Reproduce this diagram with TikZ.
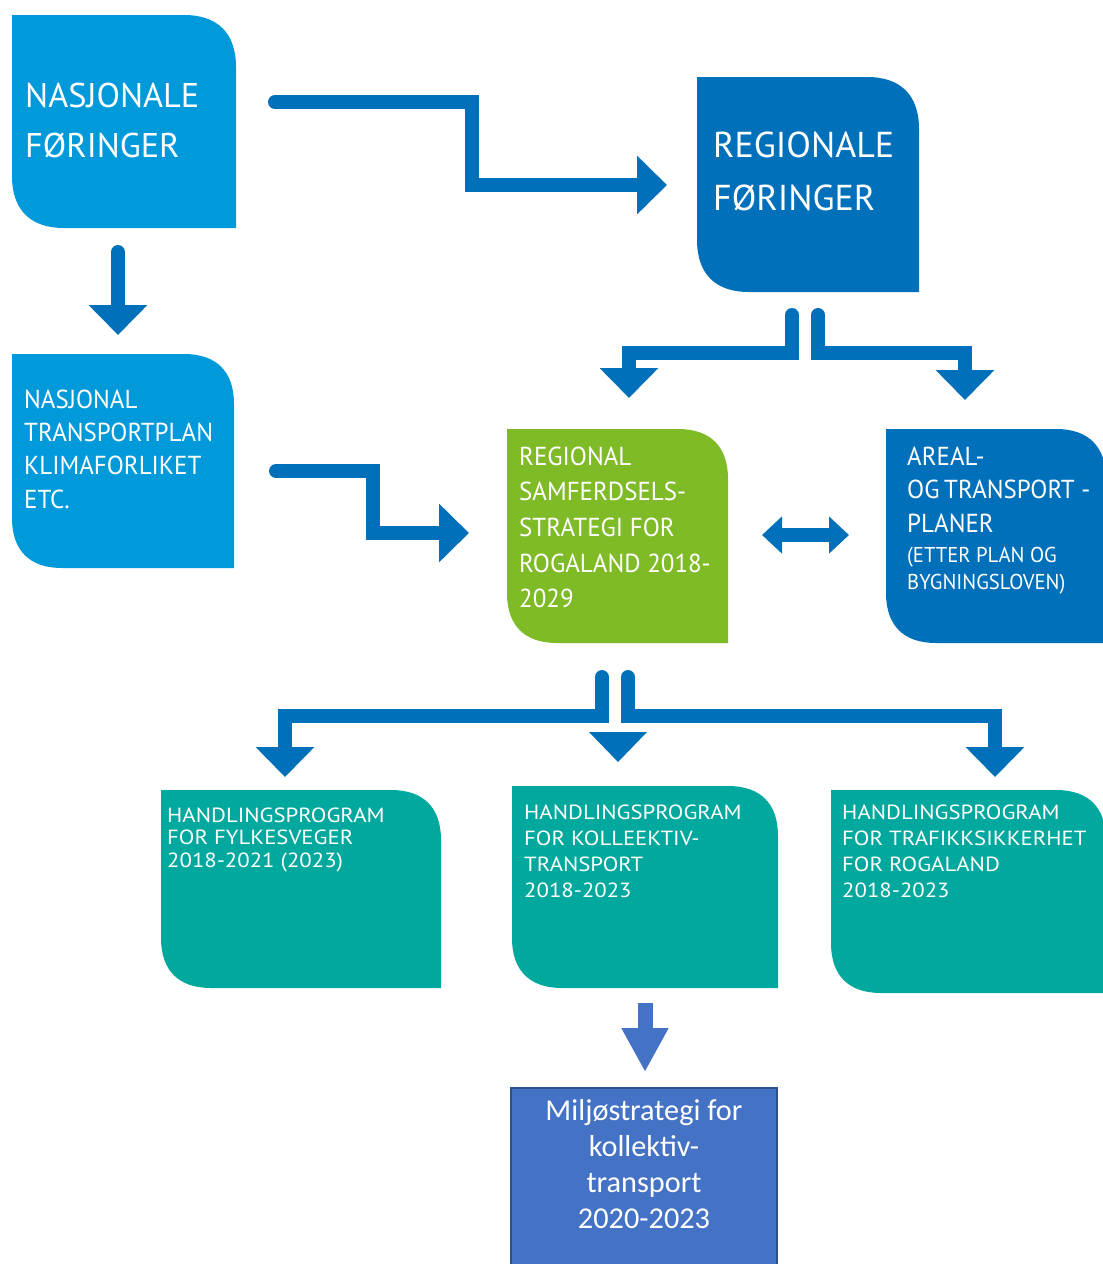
\documentclass[tikz,border=0pt]{standalone}
\usepackage{fontspec}
\newfontfamily\ptf{PT Sans}
\newfontfamily\ptn[FakeStretch=0.96]{PT Sans}
\newfontfamily\ptw[FakeStretch=1.11]{PT Sans}
\newfontfamily\carl{Carlito}
\usetikzlibrary{arrows.meta,fit}
\definecolor{lblue}{RGB}{0,153,218}
\definecolor{dblue}{RGB}{0,112,186}
\definecolor{ablue}{RGB}{0,112,186}
\definecolor{lgreen}{RGB}{127,186,39}
\definecolor{teal}{RGB}{0,168,157}
\definecolor{office}{RGB}{68,114,196}
\definecolor{officeb}{RGB}{47,82,143}
% #1 name, #2 x1, #3 y1, #4 x2, #5 y2, #6 colour, #7 radius
\newcommand\blob[7]{%
  \fill[#6] (#2,#3) -- ({#4-#7},#3)
    .. controls ({#4-0.35*#7},#3) and (#4,{#3+0.35*#7}) .. (#4,{#3+#7})
    -- (#4,#5) -- ({#2+#7},#5)
    .. controls ({#2+0.35*#7},#5) and (#2,{#5-0.35*#7}) .. (#2,{#5-#7}) -- cycle;
  \node[fit={(#2,#3) (#4,#5)}, inner sep=0pt] (#1) {};
}
\begin{document}
\begin{tikzpicture}[x=1pt,y=-1pt,
  txt/.style={text=white, inner sep=0pt, anchor=base west},
  arr/.style={draw=ablue, line width=14pt, line cap=round,
    -{Triangle[width=57pt,length=30pt]}},
  dblarr/.style={draw=ablue, line width=14pt,
    {Triangle[width=36pt,length=20pt]}-{Triangle[width=36pt,length=20pt]}},
  marr/.style={draw=office, line width=15pt,
    -{Triangle[width=44pt,length=44pt]}}]
\useasboundingbox (0,0) rectangle (1103,1264);

% boxes
\blob{nf}{12}{15}{236}{228}{lblue}{52}
\blob{rf}{697}{77}{919}{292}{dblue}{52}
\blob{nt}{12}{354}{234}{568}{lblue}{50}
\blob{rs}{507}{429}{728}{643}{lgreen}{50}
\blob{at}{886}{429}{1106}{643}{dblue}{50}
\blob{h1}{161}{790}{441}{988}{teal}{50}
\blob{h2}{512}{786}{778}{988}{teal}{50}
\blob{h3}{831}{790}{1106}{993}{teal}{50}
\fill[office] (511,1088) rectangle (777,1270);
\draw[officeb, line width=2pt] (511,1270) -- (511,1088) -- (777,1088) -- (777,1270);
\node[fit={(511,1088) (777,1264)}, inner sep=0pt] (ms) {};

% texts
\node[txt, font=\ptf\fontsize{34.3}{50}\selectfont] (tnf) at (25,107)
  {\begin{tabular}[t]{@{}l@{}}NASJONALE\\FØRINGER\end{tabular}};
\node[txt, font=\ptf\fontsize{36}{53}\selectfont] (trf) at (713,157)
  {\begin{tabular}[t]{@{}l@{}}REGIONALE\\FØRINGER\end{tabular}};
\node[txt, font=\ptn\fontsize{26}{33.4}\selectfont] (tnt) at (24,408)
  {\begin{tabular}[t]{@{}l@{}}NASJONAL\\TRANSPORTPLAN\\KLIMAFORLIKET\\ETC.\end{tabular}};
\node[txt, font=\ptn\fontsize{26}{35.7}\selectfont] (trs) at (519,465)
  {\begin{tabular}[t]{@{}l@{}}REGIONAL\\SAMFERDSELS-\\STRATEGI FOR\\ROGALAND 2018-\\2029\end{tabular}};
\node[txt, font=\ptn\fontsize{26}{33.5}\selectfont] (tat) at (907,465)
  {\begin{tabular}[t]{@{}l@{}}AREAL-\\OG\hspace{-2pt} TRANSPORT -\\PLANER\end{tabular}};
\node[txt, font=\ptn\fontsize{21.5}{27}\selectfont] (tat2) at (907,562)
  {\begin{tabular}[t]{@{}l@{}}(ETTER PLAN OG\\BYGNINGSLOVEN)\end{tabular}};
\node[txt, font=\ptw\fontsize{20.5}{22.5}\selectfont] (th1) at (167,822)
  {\begin{tabular}[t]{@{}l@{}}HANDLINGSPROGRAM\\FOR FYLKESVEGER\\2018-2021 (2023)\end{tabular}};
\node[txt, font=\ptw\fontsize{20.5}{26}\selectfont] (th2) at (524,819)
  {\begin{tabular}[t]{@{}l@{}}HANDLINGSPROGRAM\\FOR KOLLEEKTIV-\\TRANSPORT\\2018-2023\end{tabular}};
\node[txt, font=\ptw\fontsize{20.5}{26}\selectfont] (th3) at (842,819)
  {\begin{tabular}[t]{@{}l@{}}HANDLINGSPROGRAM\\FOR TRAFIKKSIKKERHET\\FOR ROGALAND\\2018-2023\end{tabular}};
\node[text=white, inner sep=0pt, anchor=base, font=\carl\fontsize{30.3}{36.3}\selectfont] (tms) at (644,1120)
  {\begin{tabular}[t]{@{}c@{}}Miljøstrategi for\\kollektiv-\\transport\\2020-2023\end{tabular}};

% connector end points
\coordinate (a1s) at (275,102);
\coordinate (a1a) at (472,102);
\coordinate (a1b) at (472,185);
\coordinate (a1e) at (667,185);
\coordinate (a2s) at (118,252);
\coordinate (a2e) at (118,335);
\coordinate (a3s) at (276,471);
\coordinate (a3a) at (373,471);
\coordinate (a3b) at (373,533);
\coordinate (a3e) at (469,533);
\coordinate (f1s) at (792,315);
\coordinate (f1a) at (792,353);
\coordinate (f1b) at (629,353);
\coordinate (f1e) at (629,398);
\coordinate (f2s) at (818,315);
\coordinate (f2a) at (818,353);
\coordinate (f2b) at (965,353);
\coordinate (f2e) at (965,400);
\coordinate (d1) at (762,535);
\coordinate (d2) at (849,535);
\coordinate (g1s) at (602,677);
\coordinate (g1a) at (602,716);
\coordinate (g1b) at (285,716);
\coordinate (g1e) at (285,777);
\coordinate (g2s) at (628,677);
\coordinate (g2a) at (628,716);
\coordinate (g2b) at (995,716);
\coordinate (g2e) at (995,777);
\coordinate (ms1) at (645,1003);
\coordinate (ms2) at (645,1072);

% connectors
\draw[arr] (a1s) -- (a1a) -- (a1b) -- (a1e);
\draw[arr] (a2s) -- (a2e);
\draw[arr] (a3s) -- (a3a) -- (a3b) -- (a3e);
\draw[arr] (f1s) -- (f1a) -- (f1b) -- (f1e);
\draw[arr] (f2s) -- (f2a) -- (f2b) -- (f2e);
\draw[dblarr] (d1) -- (d2);
\draw[arr] (g1s) -- (g1a) -- (g1b) -- (g1e);
\draw[arr] (g2s) -- (g2a) -- (g2b) -- (g2e);
\fill[ablue] (589,732) -- (647,732) -- (618,762) -- cycle;
\draw[marr] (ms1) -- (ms2);
\end{tikzpicture}
\end{document}
